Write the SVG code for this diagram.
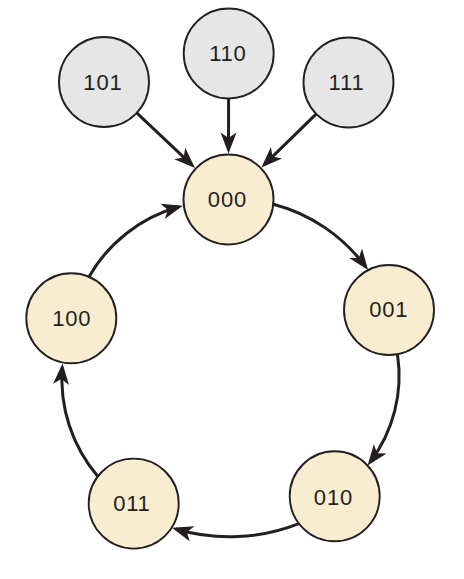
<svg xmlns="http://www.w3.org/2000/svg" width="464" height="579" viewBox="0 0 464 579">
<style>
  .node circle { stroke: #231f20; stroke-width: 1.9; }
  .init circle { fill: #f8edd0; }
  .extra circle { fill: #e6e6e7; }
  .node text { font-family: "Liberation Sans", Arial, sans-serif; font-size: 22px; letter-spacing: 0.8px; fill: #231f20; text-anchor: middle; }
  .edge { fill: none; stroke: #231f20; stroke-width: 3; marker-end: url(#ah); }
</style>
<defs>
  <marker id="ah" markerUnits="userSpaceOnUse" viewBox="-22 -10 28 20" refX="0" refY="0" markerWidth="28" markerHeight="20" orient="auto">
    <path d="M4,0 L-17,-8 L-11.5,0 L-17,8 Z" fill="#231f20"/>
  </marker>
</defs>
<rect width="464" height="579" fill="#ffffff"/>
<g id="connectors">
  <path class="edge" d="M136.7,112.9 L192.1,165.2"/>
  <path class="edge" d="M228.6,98.5 L228.5,149.5"/>
  <path class="edge" d="M316.3,113.9 L264.3,164.6"/>
  <path class="edge" d="M273.3,204.3 A166.5,166.5 0 0 1 365.7,266.9"/>
  <path class="edge" d="M397.5,354.5 A143,143 0 0 1 370.0,462.3"/>
  <path class="edge" d="M298.9,523.6 A189,189 0 0 1 175.8,529.0"/>
  <path class="edge" d="M97.9,476.4 A150,150 0 0 1 62.3,367.5"/>
  <path class="edge" d="M88.9,276.9 A150,150 0 0 1 179.0,206.8"/>
</g>
<g id="node-101" class="node extra"><circle cx="104" cy="82" r="45"/><text x="102.9" y="90.2">101</text></g>
<g id="node-110" class="node extra"><circle cx="228.7" cy="53.5" r="45"/><text x="227.9" y="61.2">110</text></g>
<g id="node-111" class="node extra"><circle cx="348.5" cy="82.5" r="45"/><text x="346.5" y="90.2">111</text></g>
<g id="node-000" class="node init"><circle cx="228.5" cy="199.5" r="45"/><text x="227.4" y="207.4">000</text></g>
<g id="node-001" class="node init"><circle cx="389" cy="310" r="45"/><text x="388.7" y="317.1">001</text></g>
<g id="node-010" class="node init"><circle cx="334.7" cy="496.3" r="45"/><text x="333.4" y="504.6">010</text></g>
<g id="node-011" class="node init"><circle cx="133.7" cy="503.6" r="45"/><text x="131.9" y="510.7">011</text></g>
<g id="node-100" class="node init"><circle cx="71.3" cy="318.3" r="45"/><text x="71.7" y="325.6">100</text></g>
</svg>
